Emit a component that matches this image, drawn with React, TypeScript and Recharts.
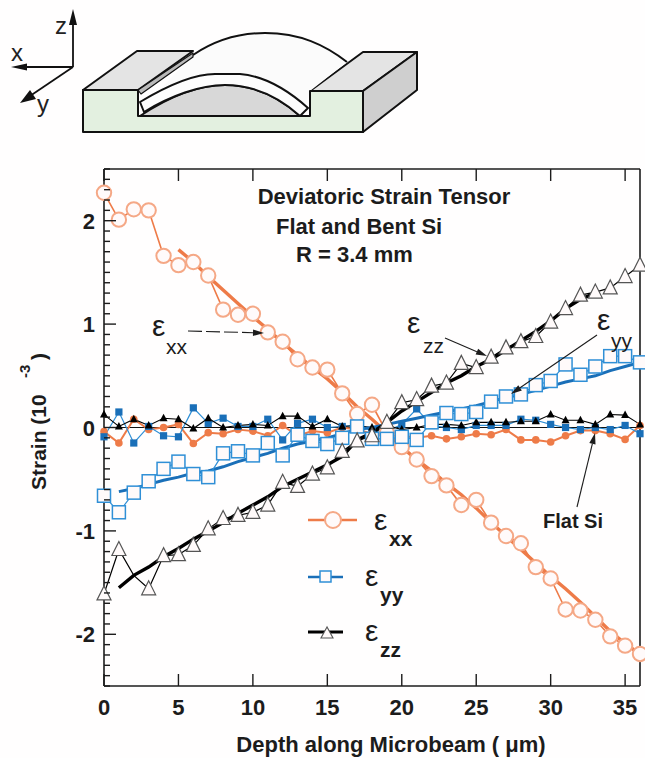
import React from "react";
import { ComposedChart, Line, XAxis, YAxis, ReferenceLine } from "recharts";

const depth = Array.from({ length: 37 }, (_, i) => i);
const xTicks = [0, 5, 10, 15, 20, 25, 30, 35];
const yTicks = Array.from({ length: 51 }, (_, i) => Math.round((i - 25)) / 10);

const bentXX = [2.27, 2.01, 2.11, 2.1, 1.66, 1.57, 1.6, 1.47, 1.14, 1.09, 1.1, 0.92, 0.83, 0.66, 0.58, 0.56, 0.33, 0.13, 0.22, -0.05, -0.19, -0.31, -0.47, -0.56, -0.75, -0.7, -0.92, -1.05, -1.12, -1.35, -1.46, -1.76, -1.77, -1.86, -2.02, -2.11, -2.19];
const bentYY = [-0.66, -0.82, -0.63, -0.52, -0.4, -0.33, -0.45, -0.48, -0.25, -0.23, -0.27, -0.15, -0.27, -0.07, -0.13, -0.16, -0.1, 0.01, -0.11, -0.11, -0.09, -0.12, 0.05, 0.14, 0.13, 0.15, 0.25, 0.3, 0.32, 0.41, 0.45, 0.61, 0.51, 0.59, 0.69, 0.69, 0.63];
const bentZZ = [-1.61, -1.18, -1.43, -1.56, -1.24, -1.23, -1.14, -0.98, -0.88, -0.85, -0.82, -0.75, -0.53, -0.57, -0.45, -0.39, -0.23, -0.13, -0.08, 0.05, 0.24, 0.27, 0.4, 0.43, 0.62, 0.58, 0.68, 0.77, 0.83, 0.88, 1.02, 1.15, 1.28, 1.31, 1.35, 1.46, 1.57];
const fitXX = [null, null, null, null, null, 1.72, 1.6, 1.46, 1.33, 1.2, 1.07, 0.95, 0.82, 0.7, 0.58, 0.47, 0.34, 0.2, 0.08, -0.05, -0.19, -0.31, -0.42, -0.54, -0.65, -0.78, -0.92, -1.05, -1.18, -1.31, -1.44, -1.56, -1.69, -1.83, -1.97, -2.09, -2.19];
const fitYY = [null, -0.62, -0.59, -0.55, -0.51, -0.48, -0.44, -0.42, -0.38, -0.33, -0.29, -0.25, -0.2, -0.16, -0.13, -0.1, -0.06, -0.02, 0.0, 0.03, 0.06, 0.09, 0.12, 0.15, 0.18, 0.21, 0.25, 0.29, 0.32, 0.36, 0.4, 0.44, 0.47, 0.5, 0.55, 0.59, 0.63];
const fitZZ = [null, -1.55, -1.43, -1.35, -1.25, -1.17, -1.08, -1.0, -0.92, -0.83, -0.75, -0.67, -0.57, -0.5, -0.43, -0.36, -0.28, -0.12, -0.05, 0.05, 0.16, 0.25, 0.34, 0.43, 0.5, 0.59, 0.66, 0.75, 0.84, 0.93, 1.03, 1.15, 1.24, 1.3, null, null, null];
const flatXX = [-0.04, -0.15, 0.08, -0.02, 0, 0.03, -0.155, -0.05, -0.06, -0.02, -0.035, -0.08, 0.02, -0.08, -0.035, -0.05, 0, -0.02, -0.06, -0.08, -0.08, -0.1, -0.08, -0.11, -0.09, -0.06, -0.07, -0.02, -0.12, -0.12, -0.14, -0.08, -0.03, -0.03, -0.06, -0.115, 0.02];
const flatYY = [-0.09, 0.15, -0.15, 0.01, -0.08, -0.09, 0.19, 0.04, 0.09, 0.01, 0.01, 0.08, -0.12, 0.04, 0.08, 0, 0.01, 0.02, -0.03, -0.04, 0.03, 0.18, 0.02, 0, -0.02, 0.02, 0.02, 0.02, 0.08, 0.07, 0.03, 0, -0.02, 0, -0.02, 0.02, -0.06];
const flatZZ = [0.125, 0.01, 0.08, 0.02, 0.09, 0.08, -0.01, 0.09, 0, 0.02, 0.03, 0.02, 0.11, 0.11, 0.01, 0.08, 0.01, 0.02, 0, 0.02, -0.02, 0, 0.03, 0.03, 0.02, 0.05, 0.05, 0.05, 0.06, 0.06, 0.125, 0.07, 0.07, 0.03, 0.125, 0.12, 0.03];
const hiddenTriangles = [2];

const rows = depth.map((d, i) => ({
  d, bentXX: bentXX[i], bentYY: bentYY[i], bentZZ: bentZZ[i],
  fitXX: fitXX[i], fitYY: fitYY[i], fitZZ: fitZZ[i],
  flatXX: flatXX[i], flatYY: flatYY[i], flatZZ: flatZZ[i],
}));

const ORANGE = "#ee7b48";
const ORANGE_L = "#f5a886";
const BLUE = "#2f8fd6";
const BLUE_D = "#1a6fb8";
const INK = "#1c1c1c";
const FONT = "'Liberation Sans', Arial, sans-serif";
const FILL = "#fffafa";

const isMajor = (v: number) => Math.abs(v - Math.round(v)) < 1e-6;

const LeftTick = ({ x, y, payload }: any) => {
  const major = isMajor(payload.value);
  return (
    <g>
      <line x1={x} x2={x + (major ? 12 : 6)} y1={y} y2={y} stroke={INK} strokeWidth={1.4} />
      {major && Math.abs(payload.value) < 2.5 && (
        <text x={x - 9} y={y + 8} textAnchor="end" fontFamily={FONT} fontWeight={700} fontSize={22} fill={INK}>
          {payload.value}
        </text>
      )}
    </g>
  );
};
const RightTick = ({ x, y, payload }: any) => {
  const major = isMajor(payload.value);
  return <line x1={x} x2={x - (major ? 12 : 6)} y1={y} y2={y} stroke={INK} strokeWidth={1.4} />;
};
const BottomTick = ({ x, y, payload }: any) => (
  <g>
    <line x1={x} x2={x} y1={y} y2={y - 12} stroke={INK} strokeWidth={1.4} />
    <text x={x} y={y + 29} textAnchor="middle" fontFamily={FONT} fontWeight={700} fontSize={22} fill={INK}>
      {payload.value}
    </text>
  </g>
);
const TopTick = ({ x, y }: any) => <line x1={x} x2={x} y1={y} y2={y + 12} stroke={INK} strokeWidth={1.4} />;

const openCircle = ({ cx, cy, key }: any) => (
  <circle key={key} cx={cx} cy={cy} r={7.2} fill={FILL} stroke={ORANGE_L} strokeWidth={2} />
);
const openSquare = ({ cx, cy, key }: any) => (
  <rect key={key} x={cx - 6.5} y={cy - 6.5} width={13} height={13} fill={FILL} stroke={BLUE} strokeWidth={1.5} />
);
const openTriangle = ({ cx, cy, key, payload }: any) =>
  hiddenTriangles.includes(payload.d) ? (
    <g key={key} />
  ) : (
    <polygon key={key} points={`${cx},${cy - 8} ${cx - 7},${cy + 6} ${cx + 7},${cy + 6}`} fill={FILL} stroke="#555" strokeWidth={1.2} />
  );
const dotCircle = ({ cx, cy, key }: any) => <circle key={key} cx={cx} cy={cy} r={3.8} fill={ORANGE} stroke="none" />;
const dotSquare = ({ cx, cy, key }: any) => <rect key={key} x={cx - 3.6} y={cy - 3.6} width={7.2} height={7.2} fill={BLUE_D} />;
const dotTriangle = ({ cx, cy, key }: any) => (
  <polygon key={key} points={`${cx},${cy - 4.5} ${cx - 4},${cy + 3} ${cx + 4},${cy + 3}`} fill="#000" />
);

const Eps = ({ x, y, sub, bold, size = 30, dx = 15, dy = 18 }: any) => (
  <g fontFamily={FONT} fill={INK}>
    <text x={x} y={y} fontSize={size} fontWeight={400}>ε</text>
    <text x={x + dx} y={y + dy} fontSize={21} fontWeight={bold ? 700 : 400}>{sub}</text>
  </g>
);

const Arrow = ({ x1, y1, x2, y2, dash }: any) => {
  const a = Math.atan2(y2 - y1, x2 - x1);
  const L = 11, W = 3.2;
  const bx = x2 - L * Math.cos(a), by = y2 - L * Math.sin(a);
  const nx = -Math.sin(a) * W, ny = Math.cos(a) * W;
  return (
    <g>
      <line x1={x1} y1={y1} x2={bx} y2={by} stroke={INK} strokeWidth={1.1} strokeDasharray={dash} />
      <polygon points={`${x2},${y2} ${bx + nx},${by + ny} ${bx - nx},${by - ny}`} fill={INK} />
    </g>
  );
};

const Overlay = () => (
  <svg width={645} height={758} style={{ position: "absolute", left: 0, top: 0, pointerEvents: "none" }}>
    {/* coordinate triad */}
    <g stroke="#111" strokeWidth={1.8} fill="none">
      <line x1={73} y1={67} x2={73} y2={18} />
      <line x1={73} y1={67} x2={24} y2={67} />
      <line x1={73} y1={67} x2={30} y2={96} />
    </g>
    <polygon points="73,9 69,25 77,25" fill="#111" />
    <polygon points="11,67 27,63.5 27,70.5" fill="#111" />
    <polygon points="20,103 30,90 36,99" fill="#111" />
    <g fontFamily={FONT} fontSize={24} fill="#222">
      <text x={55} y={34}>z</text>
      <text x={11} y={61}>x</text>
      <text x={37} y={112}>y</text>
    </g>
    {/* bent beam diagram */}
    <g stroke="#111" strokeWidth={2} strokeLinejoin="round">
      <polygon points="83,90 137,51 193,51 138,90" fill="#e4e4e4" />
      <polygon points="310,91 363,52 417,52 363,91" fill="#e4e4e4" />
      <polygon points="363,91 417,52 417,90 363,132" fill="#cfcfcf" />
      <path d="M193,55 C215,40 240,33 265,33 C300,33 325,45 347,62 L310,91 L305,108 L150,100 Z" fill="#fbfbfb" stroke="none" />
      <path d="M193,55 C215,40 240,33 265,33 C300,33 325,45 347,62" fill="none" />
      <polygon points="138,90 193,53 193,57 141,94" fill="#b9b9b9" strokeWidth={1.2} />
      <path d="M140,116 C170,96 200,85 225,85 C255,85 280,98 300,116 Z" fill="#d8d8d8" />
      <path d="M140,102 C170,84 195,74 215,74 L240,74 C265,76 290,92 308,108 L300,116 C280,98 255,85 225,85 C200,85 170,96 144,112 Z" fill="#fdfdfd" />
      <path d="M83,90 L138,90 L138,116 L310,116 L310,91 L363,91 L363,132 L83,132 Z" fill="#e3f0e0" />
    </g>
    {/* header text */}
    <g fontFamily={FONT} fontWeight={700} fontSize={22} fill={INK}>
      <text x={384} y={204} textAnchor="middle">Deviatoric Strain Tensor</text>
      <text x={276} y={234}>Flat and Bent Si</text>
      <text x={296} y={262}>R = 3.4 mm</text>
      <text x={391} y={752} textAnchor="middle">Depth along Microbeam ( μm)</text>
      <text x={543} y={528} fontSize={20}>Flat Si</text>
      <g transform="translate(46,490) rotate(-90)">
        <text x={0} y={0} fontSize={21}>Strain (10</text>
        <text x={112} y={-16} fontSize={15}>-3</text>
        <text x={130} y={0} fontSize={21}>)</text>
      </g>
    </g>
    {/* annotations */}
    <Eps x={152} y={336} sub="xx" dx={14} dy={18} />
    <Arrow x1={188} y1={331} x2={264} y2={333} dash="14 4" />
    <Eps x={407} y={333} sub="zz" dx={16} dy={20} />
    <Arrow x1={445} y1={338} x2={487} y2={356} />
    <Eps x={597} y={330} sub="yy" dx={14} dy={18} />
    <Arrow x1={597} y1={335} x2={511} y2={394} />
    <Arrow x1={577} y1={507} x2={595} y2={433} />
    {/* legend */}
    <line x1={308} x2={357} y1={520} y2={520} stroke={ORANGE} strokeWidth={2.6} />
    <circle cx={333} cy={520} r={8} fill={FILL} stroke={ORANGE_L} strokeWidth={2} />
    <line x1={308} x2={343} y1={577} y2={577} stroke={BLUE_D} strokeWidth={2.6} />
    <rect x={320} y={571} width={11} height={11} fill={FILL} stroke={BLUE} strokeWidth={1.5} />
    <line x1={308} x2={343} y1={632} y2={632} stroke="#000" strokeWidth={2.8} />
    <polygon points="327,627 321,638 333,638" fill={FILL} stroke="#555" strokeWidth={1.1} />
    <Eps x={374} y={530} sub="xx" bold dx={15} dy={16} />
    <Eps x={365} y={586} sub="yy" bold dx={15} dy={16} />
    <Eps x={365} y={641} sub="zz" bold dx={15} dy={16} />
  </svg>
);

export default function App() {
  return (
    <div style={{ position: "absolute", left: 0, top: 0, width: 645, height: 758, background: "#fffefe" }}>
      <ComposedChart width={645} height={758} data={rows} margin={{ top: 168, right: 0, bottom: 0, left: 0 }}>
        <XAxis xAxisId="b" dataKey="d" type="number" domain={[0, 36]} ticks={xTicks} interval={0} orientation="bottom" height={72} axisLine={{ stroke: INK, strokeWidth: 1.6 }} tickLine={false} tickSize={0} tickMargin={0} tick={<BottomTick />} />
        <XAxis xAxisId="t" dataKey="d" type="number" domain={[0, 36]} ticks={xTicks} interval={0} orientation="top" height={1} axisLine={{ stroke: INK, strokeWidth: 1.6 }} tickLine={false} tickSize={0} tickMargin={0} tick={<TopTick />} />
        <YAxis yAxisId="l" type="number" domain={[-2.5, 2.5]} ticks={yTicks} interval={0} width={104} axisLine={{ stroke: INK, strokeWidth: 1.6 }} tickLine={false} tickSize={0} tickMargin={0} tick={<LeftTick />} />
        <YAxis yAxisId="r" type="number" domain={[-2.5, 2.5]} ticks={yTicks} interval={0} width={5} orientation="right" axisLine={{ stroke: INK, strokeWidth: 1.6 }} tickLine={false} tickSize={0} tickMargin={0} tick={<RightTick />} />
        <ReferenceLine xAxisId="b" yAxisId="l" y={0} stroke="#111" strokeWidth={1.2} />
        <Line xAxisId="b" yAxisId="l" dataKey="flatXX" stroke={ORANGE} strokeWidth={2} dot={dotCircle} isAnimationActive={false} />
        <Line xAxisId="b" yAxisId="l" dataKey="flatYY" stroke={BLUE} strokeWidth={1.2} dot={dotSquare} isAnimationActive={false} />
        <Line xAxisId="b" yAxisId="l" dataKey="flatZZ" stroke="#000" strokeWidth={1.1} dot={dotTriangle} isAnimationActive={false} />
        <Line xAxisId="b" yAxisId="l" dataKey="fitXX" stroke={ORANGE} strokeWidth={3.4} dot={false} isAnimationActive={false} />
        <Line xAxisId="b" yAxisId="l" dataKey="fitYY" stroke={BLUE_D} strokeWidth={3} dot={false} isAnimationActive={false} />
        <Line xAxisId="b" yAxisId="l" dataKey="fitZZ" stroke="#000" strokeWidth={3.4} dot={false} isAnimationActive={false} />
        <Line xAxisId="b" yAxisId="l" dataKey="bentXX" stroke={ORANGE} strokeWidth={1.6} dot={openCircle} isAnimationActive={false} />
        <Line xAxisId="b" yAxisId="l" dataKey="bentYY" stroke={BLUE} strokeWidth={1.2} dot={openSquare} isAnimationActive={false} />
        <Line xAxisId="b" yAxisId="l" dataKey="bentZZ" stroke="#000" strokeWidth={1.2} dot={openTriangle} isAnimationActive={false} />
      </ComposedChart>
      <Overlay />
    </div>
  );
}
